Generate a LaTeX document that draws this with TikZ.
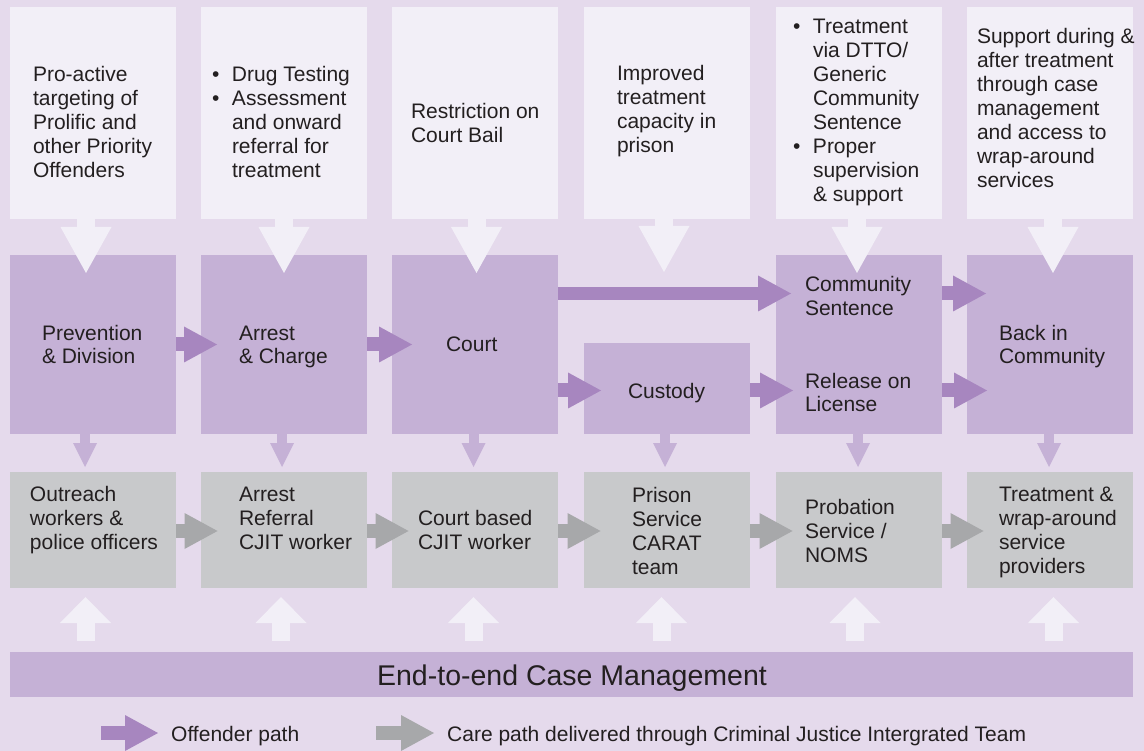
\documentclass[tikz,border=0pt]{standalone}
\usepackage{fontspec}
\setmainfont{Liberation Sans}
\usetikzlibrary{arrows.meta,calc}
\definecolor{bgc}{RGB}{229,218,236}
\definecolor{topc}{RGB}{242,239,247}
\definecolor{midc}{RGB}{197,177,214}
\definecolor{arrp}{RGB}{167,134,191}
\definecolor{grayc}{RGB}{200,201,203}
\definecolor{arrg}{RGB}{167,168,170}
\definecolor{txtc}{RGB}{35,31,32}
\newcommand{\bitem}{\makebox[20pt][l]{•}}
\newcommand{\bindent}{\hspace*{20pt}}
\begin{document}
\begin{tikzpicture}[x=1pt,y=-1pt,
  box/.style={anchor=north west,inner sep=0pt,outer sep=0pt,minimum width=166pt,draw=none},
  topbox/.style={box,fill=topc,minimum height=212pt},
  midbox/.style={box,fill=midc,minimum height=179pt},
  graybox/.style={box,fill=grayc,minimum height=116pt},
  txt/.style={anchor=north west,inner sep=0pt,outer sep=0pt,align=left,text=txtc,font=\fontsize{21}{24}\selectfont},
  parrow/.style={draw=arrp,line width=14pt,-{Triangle[length=33pt,width=36pt,line width=0pt]}},
  parrowthin/.style={draw=arrp,line width=13pt,-{Triangle[length=33pt,width=36pt,line width=0pt]}},
  garrow/.style={draw=arrg,line width=14pt,-{Triangle[length=33pt,width=36pt,line width=0pt]}},
  darrow/.style={draw=midc,line width=10pt,-{Triangle[length=24pt,width=24pt,line width=0pt]}},
  warrow/.style={draw=topc,line width=18pt,-{Triangle[length=46pt,width=51pt,line width=0pt]}},
  uarrow/.style={draw=topc,line width=18pt,-{Triangle[length=26pt,width=51pt,line width=0pt]}},
]
\fill[bgc] (0,0) rectangle (1144,751);
\useasboundingbox (0,0) rectangle (1144,751);

% top boxes
\node[topbox] (t1) at (10,7) {};
\node[topbox] (t2) at (201,7) {};
\node[topbox] (t3) at (392,7) {};
\node[topbox] (t4) at (584,7) {};
\node[topbox] (t5) at (776,7) {};
\node[topbox] (t6) at (967,7) {};

% middle boxes
\node[midbox] (m1) at (10,255) {};
\node[midbox] (m2) at (201,255) {};
\node[midbox] (m3) at (392,255) {};
\node[midbox,minimum height=91pt] (m4) at (584,343) {};
\node[midbox] (m5) at (776,255) {};
\node[midbox] (m6) at (967,255) {};

% gray boxes
\node[graybox] (g1) at (10,472) {};
\node[graybox] (g2) at (201,472) {};
\node[graybox] (g3) at (392,472) {};
\node[graybox] (g4) at (584,472) {};
\node[graybox] (g5) at (776,472) {};
\node[graybox] (g6) at (967,472) {};

% bottom bar
\node[box,fill=midc,minimum width=1123pt,minimum height=45pt] (bar) at (10,652) {};
\node[anchor=base,inner sep=0pt,text=txtc,font=\fontsize{28.5}{32}\selectfont] (bart) at (572,685) {End-to-end Case Management};

% top texts
\node[txt] (tt1) at (33,65.2) {\strut Pro-active\\targeting of\\Prolific and\\other Priority\\Offenders};
\node[txt] (tt2) at (212,65.2) {\strut\bitem Drug Testing\\\bitem Assessment\\\bindent and onward\\\bindent referral for\\\bindent treatment};
\node[txt] (tt3) at (411,102.2) {\strut Restriction on\\Court Bail};
\node[txt] (tt4) at (617,64.2) {\strut Improved\\treatment\\capacity in\\prison};
\node[txt] (tt5) at (793,17.2) {\strut\bitem Treatment\\\bindent via DTTO/\\\bindent Generic\\\bindent Community\\\bindent Sentence\\\bitem Proper\\\bindent supervision\\\bindent \& support};
\node[txt] (tt6) at (977,27.2) {\strut Support during \&\\after treatment\\through case\\management\\and access to\\wrap-around\\services};

% middle texts
\node[txt] (mt1) at (42,323.2) {\strut Prevention\\\& Division};
\node[txt] (mt2) at (239,323.2) {\strut Arrest\\\& Charge};
\node[txt] (mt3) at (446,335.2) {\strut Court};
\node[txt] (mt4) at (628,382.2) {\strut Custody};
\node[txt] (mt5a) at (805,275.2) {\strut Community\\Sentence};
\node[txt] (mt5b) at (805,371.2) {\strut Release on\\License};
\node[txt] (mt6) at (999,323.2) {\strut Back in\\Community};

% gray texts
\node[txt] (gt1) at (30,484.2) {\strut Outreach\\workers \&\\police officers};
\node[txt] (gt2) at (239,484.2) {\strut Arrest\\Referral\\CJIT worker};
\node[txt] (gt3) at (418,508.2) {\strut Court based\\CJIT worker};
\node[txt] (gt4) at (632,485.2) {\strut Prison\\Service\\CARAT\\team};
\node[txt] (gt5) at (805,497.2) {\strut Probation\\Service /\\NOMS};
\node[txt] (gt6) at (999,484.2) {\strut Treatment \&\\wrap-around\\service\\providers};

% white arrows from top boxes
\draw[warrow] ([xshift=-7pt]t1.south) -- ([xshift=-7pt,yshift=-18pt]m1.north);
\draw[warrow] (t2.south) -- ([yshift=-18pt]m2.north);
\draw[warrow] ([xshift=1.5pt]t3.south) -- ([xshift=1.5pt,yshift=-18pt]m3.north);
\draw[warrow] ([xshift=-3pt]t4.south) -- ([xshift=-3pt,yshift=71pt]m4.north);
\draw[warrow] ([xshift=-2pt]t5.south) -- ([xshift=-2pt,yshift=-18pt]m5.north);
\draw[warrow] ([xshift=3pt]t6.south) -- ([xshift=3pt,yshift=-18pt]m6.north);

% offender path arrows
\draw[parrow] (m1.east) -- ([xshift=16pt]m2.west);
\draw[parrow] (m2.east) -- ([xshift=20pt]m3.west);
\draw[parrowthin] ([yshift=51pt]m3.east) -- ([xshift=15pt,yshift=51pt]m5.west);
\draw[parrow] ([yshift=-46pt]m3.east) -- ([xshift=17pt,yshift=-2pt]m4.west);
\draw[parrow] ([yshift=-2pt]m4.east) -- ([xshift=17pt,yshift=-46pt]m5.west);
\draw[parrow] ([yshift=51pt]m5.east) -- ([xshift=19pt,yshift=51pt]m6.west);
\draw[parrow] ([yshift=-46pt]m5.east) -- ([xshift=20pt,yshift=-46pt]m6.west);

% small down arrows
\draw[darrow] ([xshift=-8pt]m1.south) -- ([xshift=-8pt,yshift=5pt]g1.north);
\draw[darrow] ([xshift=-2pt]m2.south) -- ([xshift=-2pt,yshift=5pt]g2.north);
\draw[darrow] ([xshift=-1.5pt]m3.south) -- ([xshift=-1.5pt,yshift=5pt]g3.north);
\draw[darrow] ([xshift=-2pt]m4.south) -- ([xshift=-2pt,yshift=5pt]g4.north);
\draw[darrow] ([xshift=-1pt]m5.south) -- ([xshift=-1pt,yshift=5pt]g5.north);
\draw[darrow] ([xshift=-1pt]m6.south) -- ([xshift=-1pt,yshift=5pt]g6.north);

% care path arrows
\draw[garrow] ([yshift=-1pt]g1.east) -- ([xshift=16.5pt,yshift=-1pt]g2.west);
\draw[garrow] ([yshift=-1pt]g2.east) -- ([xshift=16.5pt,yshift=-1pt]g3.west);
\draw[garrow] ([yshift=-1pt]g3.east) -- ([xshift=16.5pt,yshift=-1pt]g4.west);
\draw[garrow] ([yshift=-1pt]g4.east) -- ([xshift=16.5pt,yshift=-1pt]g5.west);
\draw[garrow] ([yshift=-1pt]g5.east) -- ([xshift=16.5pt,yshift=-1pt]g6.west);

% up arrows from case management bar
\draw[uarrow] ([xshift=-7.5pt,yshift=-53pt]g1.south) -- ([xshift=-7.5pt,yshift=-9pt]g1.south);
\draw[uarrow] ([xshift=-3pt,yshift=-53pt]g2.south) -- ([xshift=-3pt,yshift=-9pt]g2.south);
\draw[uarrow] ([xshift=-1.5pt,yshift=-53pt]g3.south) -- ([xshift=-1.5pt,yshift=-9pt]g3.south);
\draw[uarrow] ([xshift=-5.5pt,yshift=-53pt]g4.south) -- ([xshift=-5.5pt,yshift=-9pt]g4.south);
\draw[uarrow] ([xshift=-4pt,yshift=-53pt]g5.south) -- ([xshift=-4pt,yshift=-9pt]g5.south);
\draw[uarrow] ([xshift=3.5pt,yshift=-53pt]g6.south) -- ([xshift=3.5pt,yshift=-9pt]g6.south);

% legend
\coordinate (lp1) at (101,733);
\coordinate (lp2) at (158,733);
\coordinate (lg1) at (376,733);
\coordinate (lg2) at (434,733);
\draw[parrow] (lp1) -- (lp2);
\draw[garrow] (lg1) -- (lg2);
\node[anchor=base west,inner sep=0pt,text=txtc,font=\fontsize{21}{24}\selectfont] (lpt) at (171,741) {Offender path};
\node[anchor=base west,inner sep=0pt,text=txtc,font=\fontsize{21}{24}\selectfont] (lgt) at (447,741) {Care path delivered through Criminal Justice Intergrated Team};
\end{tikzpicture}
\end{document}
